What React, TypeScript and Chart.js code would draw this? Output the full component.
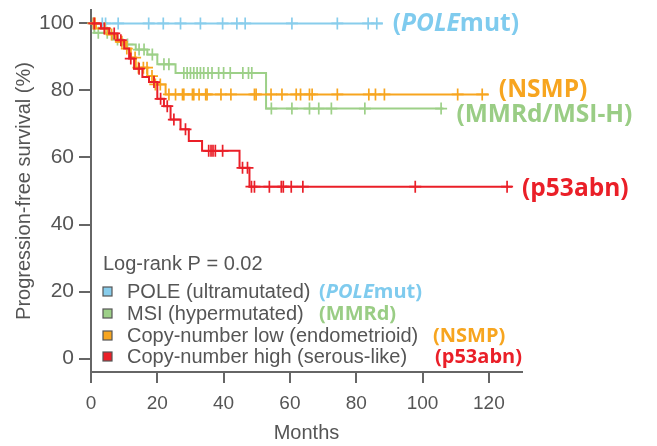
import { useEffect, useRef } from 'react';
import { Chart, registerables } from 'chart.js';
Chart.register(...registerables);

const X_TICKS = [0, 20, 40, 60, 80, 100, 120];
const Y_TICKS = [0, 20, 40, 60, 80, 100];

// POLE (ultramutated) / POLEmut
const POLE_EVENT_TIMES: number[] = [];
const POLE_EVENT_SURV: number[] = [];
const POLE_END = 88;
const POLE_CENSORS = [0.7, 3.4, 4.4, 8.2, 17.4, 21.8, 27, 33, 39.7, 44, 46.5, 60.6, 74.3, 83.6, 86.2];

// MSI (hypermutated) / MMRd
const MSI_EVENT_TIMES = [1, 6.5, 9.5, 13.5, 17, 20, 25.5, 52.8];
const MSI_EVENT_SURV = [97.2, 95.2, 93.7, 92.2, 90.7, 87.8, 85.2, 74.6];
const MSI_END = 106.3;
const MSI_CENSORS = [2.2, 4.9, 8, 11, 14.5, 16, 18.5, 22, 23.5, 28, 29, 30, 31, 32, 33, 34, 35.3, 36.5, 38.5, 40, 42, 45.8, 47.5, 48.5, 54.4, 60.6, 65.9, 68.7, 72.5, 82.6, 105.6];

// Copy-number low / NSMP
const CNL_EVENT_TIMES = [1.5, 5, 7.5, 10.5, 12, 13.5, 17, 19, 22.5];
const CNL_EVENT_SURV = [98.5, 96.7, 94.5, 92.5, 89.8, 86.8, 84.3, 81.8, 78.8];
const CNL_END = 120;
const CNL_CENSORS = [0.7, 1.2, 4.2, 6.2, 9.3, 10.8, 13.3, 14.3, 15.8, 16.9, 18.4, 19.4, 20.9, 23.5, 25.5, 27.6, 28, 30.6, 31, 32.6, 34.6, 35, 39.2, 42.2, 49.3, 49.8, 54.3, 57.6, 61.9, 63.2, 65.9, 66.7, 74.3, 83.8, 85.8, 88.5, 110.6, 118];

// Copy-number high / p53abn
const CNH_EVENT_TIMES = [3, 5.5, 8, 10, 11.5, 13, 15.5, 17.5, 20, 22, 24, 27, 29.5, 33.5, 44.8, 47.8];
const CNH_EVENT_SURV = [98.5, 97, 95, 92.5, 89.5, 86.5, 84, 82.5, 77.5, 75.3, 71.3, 68.4, 64.9, 62, 56.9, 51.3];
const CNH_END = 127;
const CNH_CENSORS = [1, 4, 7, 9, 12, 14.5, 19, 21, 23, 25, 28.5, 35.5, 36.2, 36.8, 37.5, 39.7, 45.7, 47.2, 48.4, 49.3, 53.8, 57.4, 58, 60.4, 63.9, 97.8, 125.5];

const LEGEND_NAMES = ['POLE (ultramutated)', 'MSI (hypermutated)', 'Copy-number low (endometrioid)', 'Copy-number high (serous-like)'];
const LEGEND_TAGS = ['(POLEmut)', '(MMRd)', '(NSMP)', '(p53abn)'];
const END_TAGS = ['(POLEmut)', '(MMRd/MSI-H)', '(NSMP)', '(p53abn)'];
const P_TEXT = 'Log-rank P = 0.02';

const LINE_COLORS = ['#88cdec', '#9dd088', '#f7a51f', '#ea1f28'];
const TEXT_COLORS = ['#7fcbee', '#9acd85', '#f7a51f', '#ea1f28'];

const GROUPS = [
  { times: POLE_EVENT_TIMES, surv: POLE_EVENT_SURV, end: POLE_END, censors: POLE_CENSORS },
  { times: MSI_EVENT_TIMES, surv: MSI_EVENT_SURV, end: MSI_END, censors: MSI_CENSORS },
  { times: CNL_EVENT_TIMES, surv: CNL_EVENT_SURV, end: CNL_END, censors: CNL_CENSORS },
  { times: CNH_EVENT_TIMES, surv: CNH_EVENT_SURV, end: CNH_END, censors: CNH_CENSORS },
];

function kmPoints(times: number[], surv: number[], end: number) {
  const pts = [{ x: 0, y: 100 }];
  times.forEach((t, i) => pts.push({ x: t, y: surv[i] }));
  const last = surv.length ? surv[surv.length - 1] : 100;
  pts.push({ x: end, y: last });
  return pts;
}
function survAt(times: number[], surv: number[], t: number) {
  let s = 100;
  times.forEach((tt, i) => { if (tt <= t) s = surv[i]; });
  return s;
}

const SANS = '"Liberation Sans", Arial, sans-serif';
const BOLD = '"Open Sans", sans-serif';

// end-label vertical offsets (px) relative to line end
const END_DY = [1, 6, -4, 2];
const END_DX = [10, 13, 10, 10];
// legend layout
const LEG_X = 103;
const LEG_P_Y = 264;
const LEG_ROWS_Y = [292, 314, 336, 357];
const LEG_TAG_X = [319, 319, 433, 435];

function drawTag(ctx: CanvasRenderingContext2D, text: string, x: number, y: number, size: number, color: string) {
  ctx.fillStyle = color;
  ctx.textBaseline = 'middle';
  ctx.textAlign = 'left';
  if (text.indexOf('POLE') >= 0) {
    const parts = [
      { t: '(', it: false },
      { t: 'POLE', it: true },
      { t: text.replace('(POLE', ''), it: false },
    ];
    let cx = x;
    parts.forEach((p) => {
      ctx.font = `${p.it ? 'italic ' : ''}bold ${size}px ${BOLD}`;
      ctx.fillText(p.t, cx, y);
      cx += ctx.measureText(p.t).width;
    });
  } else {
    ctx.font = `bold ${size}px ${BOLD}`;
    ctx.fillText(text, x, y);
  }
}

const labelPlugin = {
  id: 'kmLabels',
  afterDraw(chart: any) {
    const ctx: CanvasRenderingContext2D = chart.ctx;
    const xs = chart.scales.x;
    const ys = chart.scales.y;
    ctx.save();
    GROUPS.forEach((g, i) => {
      const last = g.surv.length ? g.surv[g.surv.length - 1] : 100;
      const px = xs.getPixelForValue(g.end) + END_DX[i];
      const py = ys.getPixelForValue(last) + END_DY[i];
      drawTag(ctx, END_TAGS[i], px, py, 24.5, TEXT_COLORS[i]);
    });
    ctx.fillStyle = '#555';
    ctx.font = `20px ${SANS}`;
    ctx.textBaseline = 'middle';
    ctx.fillText(P_TEXT, LEG_X, LEG_P_Y);
    LEGEND_NAMES.forEach((name, i) => {
      const y = LEG_ROWS_Y[i];
      ctx.fillStyle = LINE_COLORS[i];
      ctx.fillRect(LEG_X, y - 5, 9, 9);
      ctx.strokeStyle = '#555';
      ctx.lineWidth = 1.2;
      ctx.strokeRect(LEG_X, y - 5, 9, 9);
      ctx.fillStyle = '#555';
      ctx.font = `20px ${SANS}`;
      ctx.textBaseline = 'middle';
      ctx.fillText(name, LEG_X + 24, y);
      drawTag(ctx, LEGEND_TAGS[i], LEG_TAG_X[i], y, 20, TEXT_COLORS[i]);
    });
    ctx.restore();
  },
};

export default function App() {
  const ref = useRef<HTMLCanvasElement | null>(null);
  useEffect(() => {
    if (!ref.current) return;
    const datasets: any[] = [];
    GROUPS.forEach((g, i) => {
      datasets.push({
        type: 'line',
        data: kmPoints(g.times, g.surv, g.end),
        borderColor: LINE_COLORS[i],
        borderWidth: 2,
        stepped: true,
        pointRadius: 0,
        fill: false,
        clip: false,
        order: 10 - i,
      });
      datasets.push({
        type: 'scatter',
        data: g.censors.map((t) => ({ x: t, y: survAt(g.times, g.surv, t) })),
        pointStyle: 'cross',
        pointRadius: 6,
        pointBorderWidth: 1.7,
        borderColor: LINE_COLORS[i],
        backgroundColor: LINE_COLORS[i],
        showLine: false,
        clip: false,
        order: 10 - i,
      });
    });
    const chart = new Chart(ref.current, {
      type: 'line',
      data: { datasets },
      plugins: [labelPlugin],
      options: {
        animation: false,
        responsive: true,
        maintainAspectRatio: false,
        devicePixelRatio: 1,
        layout: { padding: { left: 0, top: 10, right: 135, bottom: 0 } },
        plugins: { legend: { display: false }, tooltip: { enabled: false } },
        scales: {
          x: {
            type: 'linear',
            min: 0,
            max: 130,
            afterFit: (s: any) => { s.height = 74; s.paddingLeft = 0; s.paddingRight = 0; },
            afterBuildTicks: (s: any) => { s.ticks = X_TICKS.map((v) => ({ value: v })); },
            grid: { drawOnChartArea: false, drawTicks: true, tickLength: 11, color: '#666', lineWidth: 2 },
            border: { display: true, color: '#666', width: 2 },
            ticks: { color: '#555', font: { family: SANS, size: 19 }, padding: 9, maxRotation: 0 },
            title: { display: true, text: 'Months', color: '#555', font: { family: SANS, size: 20 }, padding: { top: 0, bottom: 1 } },
          },
          y: {
            type: 'linear',
            min: -4,
            max: 104,
            afterFit: (s: any) => { s.width = 91; s.paddingTop = 0; s.paddingBottom = 0; },
            afterBuildTicks: (s: any) => { s.ticks = Y_TICKS.map((v) => ({ value: v })); },
            grid: { drawOnChartArea: false, drawTicks: true, tickLength: 12, color: '#666', lineWidth: 2 },
            border: { display: true, color: '#666', width: 2 },
            ticks: { color: '#555', font: { family: SANS, size: 21 }, padding: 5 },
            title: { display: true, text: 'Progression-free survival (%)', color: '#555', font: { family: SANS, size: 20 }, padding: { top: 12, bottom: 0 } },
          },
        },
      } as any,
    });
    return () => chart.destroy();
  }, []);
  return (
    <div style={{ position: 'absolute', left: 0, top: 0, width: 657, height: 446 }}>
      <canvas ref={ref} />
    </div>
  );
}
